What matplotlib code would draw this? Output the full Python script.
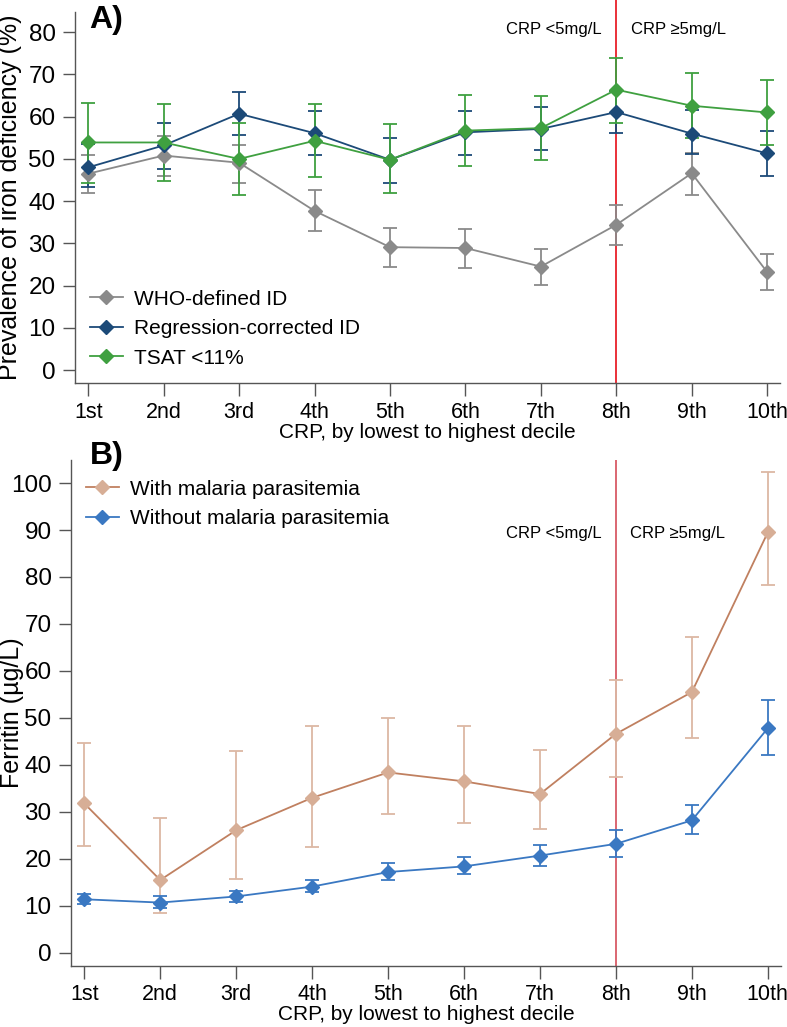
import matplotlib.pyplot as plt
import numpy as np

plt.rcParams['font.family'] = ['Liberation Sans', 'DejaVu Sans']

deciles = ['1st', '2nd', '3rd', '4th', '5th', '6th', '7th', '8th', '9th', '10th']

# Panel A: prevalence of iron deficiency (%) with 95% CI
who_id = [46.5, 50.8, 49.1, 37.7, 29.1, 28.9, 24.5, 34.4, 46.6, 23.2]
who_lo = [42.0, 46.0, 44.3, 32.9, 24.5, 24.2, 20.2, 29.5, 41.5, 19.0]
who_hi = [51.0, 55.5, 53.2, 42.6, 33.6, 33.5, 28.7, 39.0, 51.5, 27.5]

reg_id = [48.0, 53.2, 60.7, 56.1, 49.8, 56.3, 57.1, 61.1, 56.0, 51.3]
reg_lo = [43.3, 47.6, 55.7, 50.9, 44.4, 50.9, 52.0, 56.1, 51.1, 46.0]
reg_hi = [53.5, 58.4, 65.9, 61.3, 54.9, 61.4, 62.4, 66.1, 61.5, 56.6]

tsat = [53.9, 53.9, 50.0, 54.3, 49.8, 56.7, 57.3, 66.4, 62.6, 61.0]
tsat_lo = [44.4, 44.8, 41.5, 45.7, 41.9, 48.4, 49.8, 58.4, 55.0, 53.3]
tsat_hi = [63.3, 63.0, 58.6, 62.9, 58.3, 65.2, 64.8, 74.0, 70.3, 68.7]

# Panel B: ferritin (ug/L) with 95% CI
mal = [31.8, 15.5, 26.1, 33.0, 38.4, 36.5, 33.8, 46.6, 55.5, 89.5]
mal_lo = [22.7, 8.4, 15.7, 22.5, 29.6, 27.6, 26.4, 37.4, 45.8, 78.3]
mal_hi = [44.7, 28.8, 43.0, 48.3, 49.9, 48.3, 43.1, 58.1, 67.3, 102.3]

nomal = [11.4, 10.7, 12.0, 14.1, 17.2, 18.4, 20.7, 23.2, 28.2, 47.8]
nomal_lo = [10.5, 9.6, 10.9, 12.9, 15.4, 16.7, 18.5, 20.5, 25.4, 42.2]
nomal_hi = [12.5, 12.0, 13.2, 15.6, 19.1, 20.3, 23.0, 26.1, 31.5, 53.9]

x = np.arange(1, 11)


def series(ax, y, lo, hi, color, label, ecolor=None, lcolor=None, mcolor=None):
    y = np.array(y)
    err = [y - np.array(lo), np.array(hi) - y]
    ax.errorbar(x, y, yerr=err, fmt='none', ecolor=ecolor or color,
                elinewidth=1.3, capsize=5, capthick=1.3, zorder=3)
    ax.plot(x, y, color=lcolor or color, lw=1.3, marker='D', ms=7,
            mfc=mcolor or color, mec=mcolor or color, label=label, zorder=4)


def style(ax, ylim, yticks, xpad, labelpad):
    ax.set_xlim(0.825, 10.17)
    ax.set_ylim(*ylim)
    ax.set_xticks(x)
    ax.set_xticklabels(deciles)
    ax.set_yticks(yticks)
    for s in ['top', 'right']:
        ax.spines[s].set_visible(False)
    for s in ['left', 'bottom']:
        ax.spines[s].set_color('#555555')
        ax.spines[s].set_linewidth(1.0)
    ax.tick_params(direction='out', length=9, width=1.0, color='#555555',
                   labelsize=17.5, pad=5)
    ax.tick_params(axis='x', pad=xpad, labelsize=15.5)
    ax.set_xlabel('CRP, by lowest to highest decile', fontsize=15,
                  labelpad=labelpad)


fig = plt.figure(figsize=(7.87, 10.27), dpi=100)

# ---- Panel A
axA = fig.add_axes([75 / 787, 1 - 382.7 / 1027, 705 / 787, 370.7 / 1027])
axA.axvline(8, ymin=0, ymax=1.033, color='#e8202a', lw=1.3, zorder=1,
            clip_on=False)
series(axA, who_id, who_lo, who_hi, '#8a8a8a', 'WHO-defined ID')
series(axA, reg_id, reg_lo, reg_hi, '#1c4a78', 'Regression-corrected ID')
series(axA, tsat, tsat_lo, tsat_hi, '#3fa040', 'TSAT <11%')
style(axA, (-3, 84.8), range(0, 81, 10), 5, 0)
axA.set_ylabel('Prevalence of iron deficiency (%)', fontsize=18)
axA.yaxis.set_label_coords((22 - 75) / 705, 0.5)
axA.text(7.81, 80.6, 'CRP <5mg/L', ha='right', va='center', fontsize=12)
axA.text(8.19, 80.6, 'CRP \u22655mg/L', ha='left', va='center', fontsize=12)
axA.text(0.02, 0.978, 'A)', transform=axA.transAxes, fontsize=23,
         fontweight='bold', va='center', ha='left')
axA.legend(loc='upper left', bbox_to_anchor=(0.0, 0.29), frameon=False,
           fontsize=15, handlelength=1.6, handletextpad=0.55,
           labelspacing=0.5, borderaxespad=0.3)

# ---- Panel B
axB = fig.add_axes([71 / 787, 1 - 966 / 1027, 709.7 / 787, 506 / 1027])
axB.axvline(8, color='#d85a66', lw=1.3, zorder=1)
series(axB, mal, mal_lo, mal_hi, '#d2a88f', 'With malaria parasitemia',
       ecolor='#dcb8a4', lcolor='#c08060', mcolor='#d7ae96')
series(axB, nomal, nomal_lo, nomal_hi, '#3a78c2', 'Without malaria parasitemia')
style(axB, (-2.8, 104.9), range(0, 101, 10), 4, 0)
axB.set_ylabel('Ferritin (\u00b5g/L)', fontsize=18)
axB.yaxis.set_label_coords((24 - 71) / 709.7, 0.5)
axB.text(7.81, 89.3, 'CRP <5mg/L', ha='right', va='center', fontsize=12)
axB.text(8.19, 89.3, 'CRP \u22655mg/L', ha='left', va='center', fontsize=12)
axB.text(0.026, 1.008, 'B)', transform=axB.transAxes, fontsize=23,
         fontweight='bold', va='center', ha='left')
axB.legend(loc='upper left', bbox_to_anchor=(0.0, 0.99), frameon=False,
           fontsize=15, handlelength=1.6, handletextpad=0.55,
           labelspacing=0.5, borderaxespad=0.3)

fig.savefig('out.png', dpi=100)
